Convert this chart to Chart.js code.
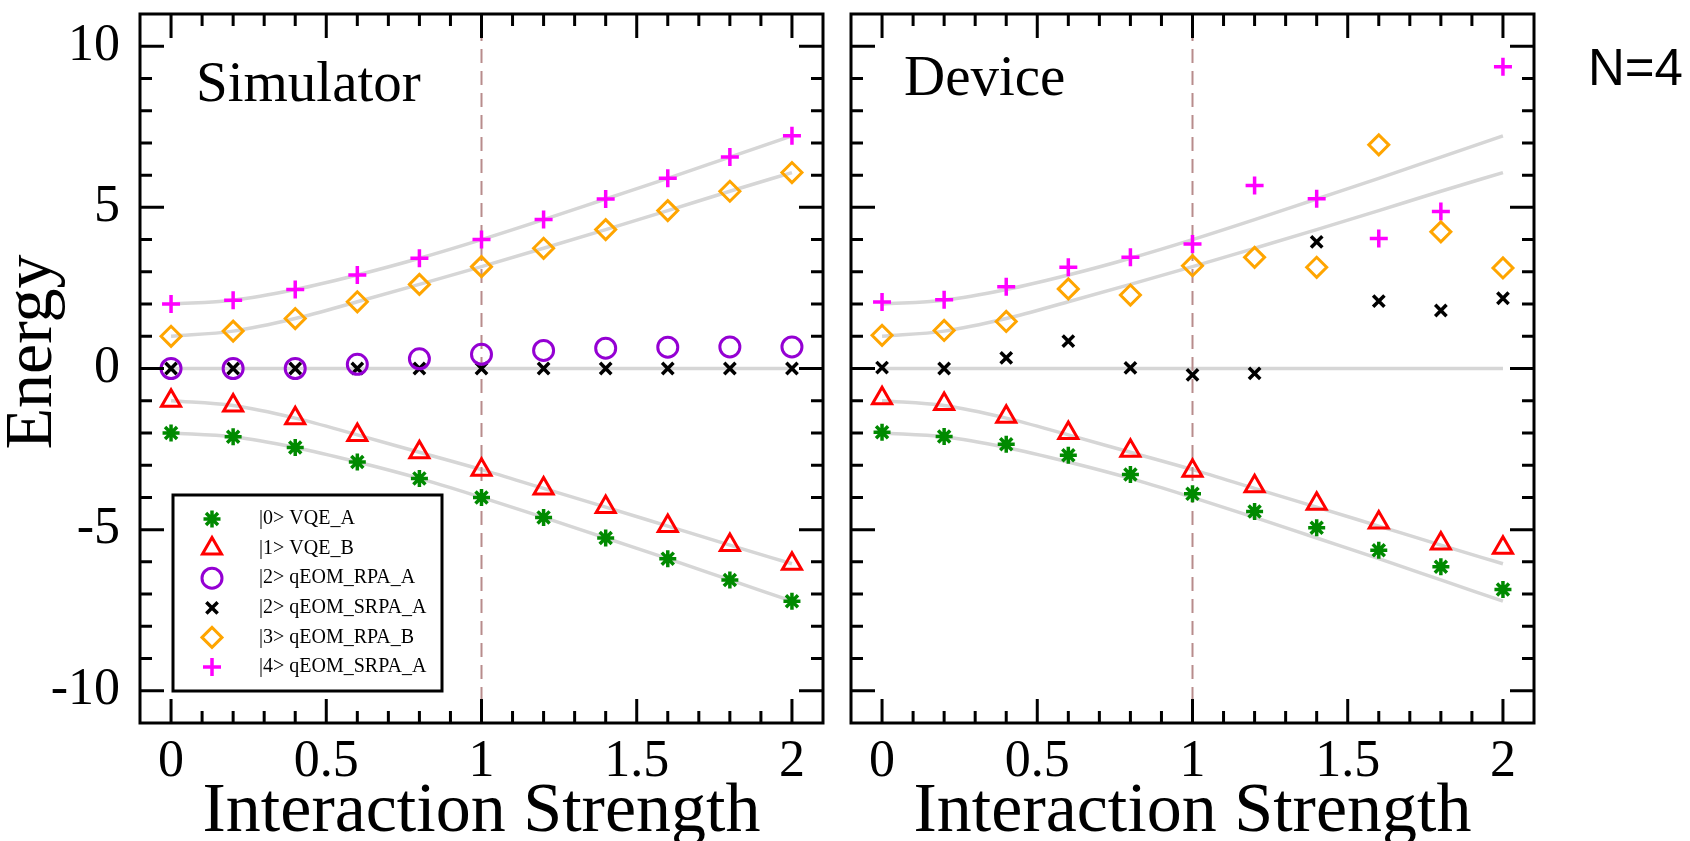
<!DOCTYPE html>
<html>
<head>
<meta charset="utf-8">
<script src="https://cdn.jsdelivr.net/npm/chart.js@4.4.1/dist/chart.umd.min.js"></script>
<style>
  html, body { margin: 0; padding: 0; background: #fff; }
  #wrap { position: relative; width: 1690px; height: 841px; overflow: hidden; }
  canvas { position: absolute; top: 0; }
  #simCanvas { left: 0; }
  #devCanvas { left: 837px; }
</style>
</head>
<body>
<div id="wrap">
  <canvas id="simCanvas" width="837" height="841"></canvas>
  <canvas id="devCanvas" width="853" height="841"></canvas>
</div>
<script>
// interaction strengths sampled in both panels
const strengths = [0, 0.2, 0.4, 0.6, 0.8, 1.0, 1.2, 1.4, 1.6, 1.8, 2.0];
const xTickLabels = [0, 0.5, 1, 1.5, 2];
const yTickLabels = [-10, -5, 0, 5, 10];

// simulator panel (these also trace the grey exact curves)
const simVQE_A   = [-2.0, -2.12, -2.45, -2.9, -3.41, -4.0, -4.62, -5.26, -5.9, -6.56, -7.22];
const simVQE_B   = [-1.0, -1.15, -1.54, -2.06, -2.6, -3.14, -3.72, -4.3, -4.89, -5.48, -6.06];
const simRPA_A2  = [0, 0, 0, 0.13, 0.3, 0.44, 0.56, 0.63, 0.66, 0.67, 0.67];
const simSRPA_A2 = [0, 0, 0, 0, 0, 0, 0, 0, 0, 0, 0];
const simRPA_B3  = [1.0, 1.16, 1.55, 2.07, 2.61, 3.16, 3.73, 4.31, 4.9, 5.5, 6.08];
const simSRPA_A4 = [2.0, 2.12, 2.45, 2.9, 3.42, 4.0, 4.62, 5.26, 5.9, 6.56, 7.22];

// device panel
const devVQE_A   = [-1.98, -2.11, -2.35, -2.69, -3.29, -3.89, -4.44, -4.94, -5.64, -6.15, -6.86];
const devVQE_B   = [-0.92, -1.1, -1.5, -2.0, -2.55, -3.17, -3.65, -4.2, -4.78, -5.43, -5.56];
const devSRPA_A2 = [0.03, 0.0, 0.33, 0.85, 0.02, -0.2, -0.15, 3.93, 2.09, 1.8, 2.18];
const devRPA_B3  = [1.03, 1.18, 1.46, 2.47, 2.28, 3.19, 3.45, 3.14, 6.94, 4.24, 3.12];
const devSRPA_A4 = [2.06, 2.13, 2.54, 3.14, 3.45, 3.86, 5.68, 5.27, 4.03, 4.87, 9.36];

const SERIF = '"Liberation Serif", "Times New Roman", serif';
Chart.defaults.font.family = SERIF;
Chart.defaults.color = '#000';

const st = {
  vqeA:   { label: '|0> VQE_A',       pointStyle: 'star',     color: '#008a00', radius: 8.5, width: 3.5 },
  vqeB:   { label: '|1> VQE_B',       pointStyle: 'triangle', color: '#ff0000', radius: 11,  width: 3 },
  rpaA2:  { label: '|2> qEOM_RPA_A',  pointStyle: 'circle',   color: '#9400d3', radius: 10,  width: 3 },
  srpaA2: { label: '|2> qEOM_SRPA_A', pointStyle: 'crossRot', color: '#000000', radius: 8,   width: 3.5 },
  rpaB3:  { label: '|3> qEOM_RPA_B',  pointStyle: 'rectRot',  color: '#ffa500', radius: 10,  width: 3 },
  srpaA4: { label: '|4> qEOM_SRPA_A', pointStyle: 'cross',    color: '#ff00ff', radius: 9,   width: 3.5 }
};

function pts(vals) {
  return strengths.map((x, i) => ({ x: x, y: vals[i] }));
}

function markerSet(vals, s) {
  return {
    label: s.label, data: pts(vals), showLine: false,
    pointStyle: s.pointStyle, pointRadius: s.radius, pointHoverRadius: s.radius,
    pointBorderWidth: s.width, pointBorderColor: s.color,
    pointBackgroundColor: 'rgba(0,0,0,0)', order: 0
  };
}

function exactSet(vals) {
  return {
    data: pts(vals), showLine: true, borderColor: '#d6d6d6', borderWidth: 3.5,
    pointRadius: 0, cubicInterpolationMode: 'monotone', order: 2
  };
}

function criticalLine() {
  return {
    data: [{ x: 1, y: -11 }, { x: 1, y: 11 }], showLine: true,
    borderColor: '#b88c8c', borderWidth: 2, borderDash: [14, 8],
    pointRadius: 0, order: 1
  };
}

// grey exact curves, same in both panels
function exactCurves() {
  return [simVQE_A, simVQE_B, simSRPA_A2, simRPA_B3, simSRPA_A4].map(exactSet);
}

// box and inward ticks on all four sides
const framePlugin = {
  id: 'frame',
  afterDatasetsDraw(chart) {
    const { ctx, chartArea: a } = chart;
    const x = chart.scales.x, y = chart.scales.y;
    ctx.save();
    ctx.strokeStyle = '#000';
    ctx.lineWidth = 3;
    ctx.beginPath();
    for (let i = 0; i <= 20; i++) {
      const px = x.getPixelForValue(i / 10);
      const len = i % 5 === 0 ? 24 : 12;
      ctx.moveTo(px, a.bottom); ctx.lineTo(px, a.bottom - len);
      ctx.moveTo(px, a.top); ctx.lineTo(px, a.top + len);
    }
    for (let v = -10; v <= 10; v++) {
      const py = y.getPixelForValue(v);
      const len = v % 5 === 0 ? 24 : 12;
      ctx.moveTo(a.left, py); ctx.lineTo(a.left + len, py);
      ctx.moveTo(a.right, py); ctx.lineTo(a.right - len, py);
    }
    ctx.stroke();
    ctx.strokeRect(a.left, a.top, a.right - a.left, a.bottom - a.top);
    ctx.restore();
  }
};

function textPlugin(items) {
  return {
    id: 'texts',
    afterDraw(chart) {
      const ctx = chart.ctx;
      items.forEach(t => {
        ctx.save();
        ctx.fillStyle = '#000';
        ctx.font = t.font;
        ctx.textAlign = t.align || 'left';
        ctx.textBaseline = t.baseline || 'alphabetic';
        ctx.translate(t.x, t.y);
        if (t.rotate) ctx.rotate(t.rotate);
        ctx.fillText(t.text, 0, 0);
        ctx.restore();
      });
    }
  };
}

// legend box in the lower left of the simulator panel
const legendPlugin = {
  id: 'boxLegend',
  afterDraw(chart) {
    const ctx = chart.ctx;
    const entries = [st.vqeA, st.vqeB, st.rpaA2, st.srpaA2, st.rpaB3, st.srpaA4];
    ctx.save();
    ctx.lineWidth = 3;
    ctx.strokeStyle = '#000';
    ctx.strokeRect(173, 495, 269, 196);
    entries.forEach((s, i) => {
      const yy = 519 + i * 29.6;
      ctx.strokeStyle = s.color;
      ctx.fillStyle = 'rgba(0,0,0,0)';
      ctx.lineWidth = s.width;
      Chart.helpers.drawPoint(ctx, { pointStyle: s.pointStyle, radius: s.radius, rotation: 0, borderWidth: s.width }, 212, yy);
      ctx.fillStyle = '#000';
      ctx.font = '20px ' + SERIF;
      ctx.textBaseline = 'middle';
      ctx.textAlign = 'left';
      ctx.fillText(s.label, 259, yy);
    });
    ctx.restore();
  }
};

function buildChart(id, datasets, cfg, extraPlugins) {
  return new Chart(document.getElementById(id), {
    type: 'scatter',
    data: { datasets: datasets },
    options: {
      responsive: false,
      animation: false,
      layout: { padding: { left: 0, right: cfg.padRight, top: 10, bottom: 0 } },
      plugins: { legend: { display: false }, tooltip: { enabled: false } },
      scales: {
        x: {
          type: 'linear', min: -0.1, max: 2.1,
          afterBuildTicks: s => { s.ticks = xTickLabels.map(v => ({ value: v })); },
          afterFit: s => { s.height = 118; s.paddingLeft = 0; s.paddingRight = 0; },
          grid: { display: false }, border: { display: false },
          ticks: { font: { size: 52 }, padding: 0, maxRotation: 0, autoSkip: false, callback: v => String(v) },
          title: { display: true, text: 'Interaction Strength', font: { size: 70, lineHeight: 0.8 }, padding: 0 }
        },
        y: {
          type: 'linear', min: -11, max: 11,
          afterBuildTicks: s => { s.ticks = yTickLabels.map(v => ({ value: v })); },
          afterFit: s => { s.width = cfg.yWidth; s.paddingTop = 0; s.paddingBottom = 0; },
          grid: { display: false }, border: { display: false },
          ticks: { display: cfg.yLabels, font: { size: 52 }, padding: 12, callback: v => String(v) }
        }
      }
    },
    plugins: [framePlugin].concat(extraPlugins)
  });
}

const simDatasets = [
  markerSet(simVQE_A, st.vqeA),
  markerSet(simVQE_B, st.vqeB),
  markerSet(simRPA_A2, st.rpaA2),
  markerSet(simSRPA_A2, st.srpaA2),
  markerSet(simRPA_B3, st.rpaB3),
  markerSet(simSRPA_A4, st.srpaA4),
  criticalLine()
].concat(exactCurves());

const devDatasets = [
  markerSet(devVQE_A, st.vqeA),
  markerSet(devVQE_B, st.vqeB),
  markerSet(devSRPA_A2, st.srpaA2),
  markerSet(devRPA_B3, st.rpaB3),
  markerSet(devSRPA_A4, st.srpaA4),
  criticalLine()
].concat(exactCurves());

buildChart('simCanvas', simDatasets, { padRight: 7, yWidth: 140, yLabels: true }, [
  legendPlugin,
  textPlugin([
    { text: 'Simulator', x: 196, y: 101, font: '57px ' + SERIF },
    { text: 'Energy', x: 33, y: 352, font: '68px ' + SERIF, align: 'center', baseline: 'middle', rotate: -Math.PI / 2 }
  ])
]);

buildChart('devCanvas', devDatasets, { padRight: 156, yWidth: 7, yLabels: false }, [
  textPlugin([
    { text: 'Device', x: 904 - 837, y: 95, font: '57px ' + SERIF },
    { text: 'N=4', x: 1588 - 837, y: 85, font: '51px "Liberation Sans", Arial, sans-serif' }
  ])
]);
</script>
</body>
</html>
